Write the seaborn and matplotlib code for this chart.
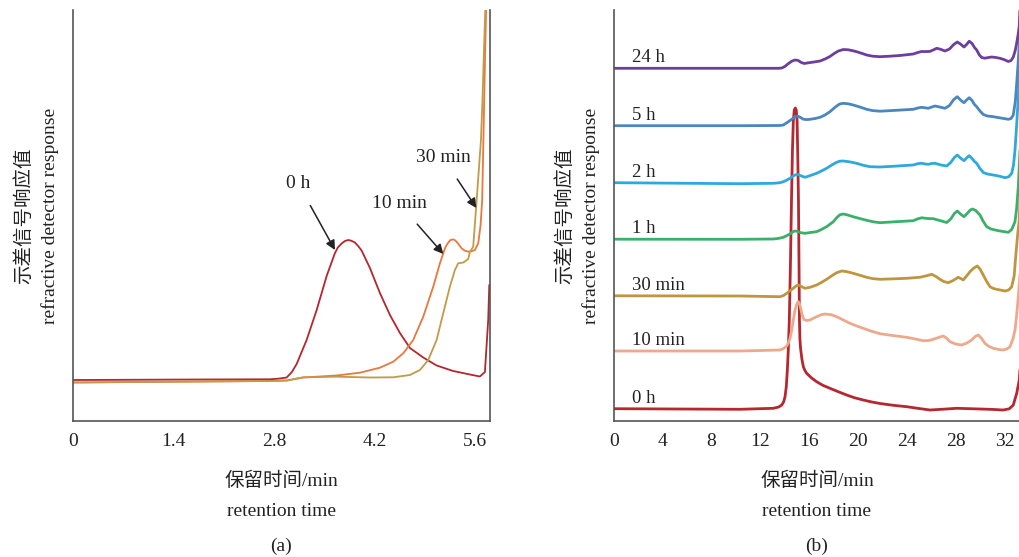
import numpy as np
import pandas as pd
import matplotlib
matplotlib.use("Agg")
import matplotlib.pyplot as plt
import seaborn as sns

# ---------------- data: panel (a) ----------------
a_0h_x = [0.0, 1.77, 2.744, 2.86, 2.977, 3.05, 3.116, 3.255, 3.395, 3.534, 3.650, 3.69, 3.743, 3.79,
          3.835, 3.88, 3.928, 3.975, 4.021, 4.137, 4.276, 4.416, 4.555, 4.695, 4.880, 5.066,
          5.297, 5.530, 5.669, 5.739, 5.785, 5.80]
a_0h_y = [41.0, 41.5, 41.7, 42.3, 43.5, 49, 57, 81, 111, 145, 168, 173.5, 177.5, 180,
          181, 180.2, 178.5, 174.8, 170.5, 153, 128, 106, 88, 73, 63.5, 55.5,
          50, 46.5, 44.5, 49, 101, 136]

a_10m_x = [0.0, 1.40, 2.744, 2.98, 3.208, 3.673, 3.998, 4.276, 4.462, 4.601, 4.740, 4.880, 5.019,
           5.112, 5.182, 5.21, 5.251, 5.27, 5.293, 5.31, 5.335, 5.375, 5.414, 5.46, 5.506, 5.55,
           5.600, 5.646, 5.679, 5.701, 5.718, 5.729, 5.743, 5.756, 5.760]
a_10m_y = [38.5, 39.3, 40, 40.5, 43.5, 45.5, 48.3, 53.3, 59.3, 67.7, 81, 104.3, 134.3,
           157.7, 172.7, 176.5, 180.5, 181.2, 181.5, 181.3, 180, 176.5, 172.7, 170.3, 169.3, 169.7,
           171, 177.7, 196, 221, 281, 321, 371, 411, 430]

a_30m_x = [0.0, 1.40, 2.744, 2.98, 3.208, 3.673, 4.137, 4.462, 4.694, 4.834, 4.949, 5.066, 5.158,
           5.251, 5.321, 5.367, 5.437, 5.47, 5.506, 5.530, 5.576, 5.614, 5.649, 5.684, 5.705,
           5.726, 5.744, 5.754]
a_30m_y = [38.5, 39.3, 40, 40.5, 43.7, 44.3, 43.5, 43.7, 46, 51, 61, 81, 107.7,
           134.3, 151, 157.7, 158.5, 160, 162, 169, 174.3, 211, 246, 281, 321,
           371, 411, 430]

a_labels = ["0 h", "10 min", "30 min"]
a_colors = ["#B5262D", "#E8783D", "#C29A48"]
a_xticks = [0, 1.4, 2.8, 4.2, 5.6]

# ---------------- data: panel (b) ----------------
b_0h_x = [0.0, 10.33, 13.06, 13.5, 13.75, 13.9, 14.02, 14.12, 14.21, 14.29, 14.37, 14.46, 14.55,
          14.63, 14.70, 14.78, 14.86, 14.94, 15.01, 15.07, 15.12, 15.17, 15.20, 15.24, 15.29,
          15.4, 15.52, 15.65, 15.79, 16.2, 16.61, 17.1, 17.70, 18.4, 19.07, 19.7, 20.43, 21.1,
          21.80, 22.9, 23.99, 25.0, 25.90, 27.0, 28.09, 30.00, 31.0, 31.91, 32.4, 32.73, 33.01,
          33.22, 33.30]
b_0h_y = [12.3, 11.7, 12.7, 14, 16, 19, 24.3, 34, 51, 72, 101, 155, 221,
          272, 300, 311, 313, 311, 300, 260, 221, 150, 101, 82, 73,
          62, 54.3, 50.5, 47.7, 43, 39.3, 35.8, 32.7, 29.2, 26, 23.3, 21, 19.1,
          17.5, 15.7, 14.3, 12.5, 11, 11.8, 12.7, 12, 11.6, 11, 12.2, 16, 27.7,
          41, 55]

b_10m_x = [0.0, 10.33, 13.61, 13.9, 14.16, 14.3, 14.43, 14.56, 14.70, 14.82, 14.92, 15.02, 15.11,
           15.2, 15.30, 15.43, 15.57, 15.8, 16.07, 16.35, 16.61, 17.0, 17.30, 17.8, 18.25, 18.8,
           19.34, 19.9, 20.43, 21.1, 21.80, 22.9, 23.99, 24.7, 25.35, 25.8, 26.17, 26.6, 26.99,
           27.25, 27.54, 28.0, 28.50, 28.9, 29.32, 29.6, 29.86, 30.1, 30.41, 30.7, 31.09, 31.5,
           31.91, 32.2, 32.46, 32.7, 32.87, 33.0, 33.14, 33.30]
b_10m_y = [70, 70, 71, 72.5, 75, 78.2, 82.7, 90.5, 101, 110, 114.3, 118, 119.3,
           117.5, 112.7, 106, 101.5, 100.5, 101, 102.8, 104.3, 106.3, 107, 106.3, 104.3, 101,
           97.7, 95, 92.7, 89.8, 87.3, 85.4, 83.7, 82, 80.3, 80.5, 81.7, 83.5, 85,
           83, 79.3, 77, 76, 77.8, 81, 84.5, 86, 83, 77.7, 74.8, 72.7, 71.6,
           71, 72, 74.3, 82, 91, 105, 124.3, 150]

b_30m_x = [0.0, 10.33, 13.61, 13.9, 14.16, 14.45, 14.70, 14.92, 15.11, 15.35, 15.66, 16.1, 16.61,
           17.0, 17.43, 17.85, 18.25, 18.66, 19.1, 19.61, 20.2, 20.71, 21.2, 21.80, 23.0, 23.99,
           25.08, 25.6, 26.04, 26.4, 26.72, 27.05, 27.40, 27.8, 28.22, 28.45, 28.63, 28.9, 29.18,
           29.5, 29.78, 30.0, 30.27, 30.55, 30.82, 31.1, 31.37, 32.05, 32.35, 32.60, 32.8, 32.95,
           33.1, 33.22, 33.30]
b_30m_y = [125.2, 125, 124.3, 125.5, 127.7, 130.5, 132.7, 135, 136, 134.5, 132.7, 133.8, 136,
           138.5, 141.7, 145.2, 148.3, 150, 149.3, 147.7, 145.6, 143.7, 142.4, 141.7, 142.2, 142.7,
           143.7, 145.2, 146.7, 144.5, 141.7, 139.4, 138.3, 140.5, 143.7, 142.3, 141, 145, 149.3,
           153, 155, 152, 146, 139.5, 134.3, 132.5, 131.7, 130, 131, 134.3, 145, 167.7,
           188, 201, 230]

b_1h_x = [0.0, 10.33, 13.06, 13.5, 13.88, 14.15, 14.43, 14.65, 14.84, 15.05, 15.3, 15.66, 16.1,
          16.61, 17.0, 17.43, 17.98, 18.25, 18.52, 18.80, 19.07, 19.6, 20.2, 20.71, 21.3, 21.80,
          23.0, 24.53, 24.9, 25.22, 25.7, 26.17, 26.7, 27.27, 27.6, 27.9, 28.14, 28.4, 28.69,
          28.95, 29.2, 29.40, 29.65, 30.00, 30.25, 30.55, 30.9, 31.50, 32.0, 32.32, 32.6, 32.87,
          33.0, 33.14, 33.28]
b_1h_y = [181.8, 181.7, 182, 182.6, 183.7, 185.3, 187, 189.2, 190, 189.6, 188.3, 187.7, 188.5,
          189.3, 191.5, 194.3, 199.3, 203.3, 206.2, 207, 206.3, 204.3, 202.3, 200.7, 199.1, 198.3,
          199.2, 200.3, 202.2, 203.2, 202.5, 202.3, 200.5, 198.5, 202, 207.5, 210, 207, 204.3,
          207.5, 211, 212, 210.5, 206, 200, 194.3, 192, 190.3, 189.3, 188.7, 191.5, 199.3,
          212, 234.3, 271]

b_2h_x = [0.0, 10.33, 13.06, 13.6, 13.88, 14.15, 14.43, 14.75, 15.02, 15.3, 15.66, 16.1, 16.61,
          17.0, 17.43, 17.85, 18.25, 18.5, 18.80, 19.3, 19.89, 20.4, 20.98, 21.8, 23.0, 24.53,
          24.9, 25.22, 25.5, 25.76, 26.05, 26.31, 26.8, 27.27, 27.6, 27.9, 28.14, 28.4, 28.69,
          28.9, 29.12, 29.35, 29.55, 29.73, 30.0, 30.27, 30.6, 31.09, 31.6, 32.05, 32.35, 32.60,
          32.75, 32.87, 33.0, 33.14, 33.28, 33.35]
b_2h_y = [238.3, 237.3, 237.7, 238.3, 239.3, 240.8, 242.7, 245.5, 246.7, 245.3, 243.7, 245.5, 247.7,
          250, 252.7, 256, 258.7, 259.8, 260, 259.2, 257.7, 255.8, 254.3, 254, 254.8, 256,
          257.3, 257.7, 257, 256.7, 257.5, 257.7, 256, 255, 258.5, 263.5, 266, 263, 260.3,
          263, 265.3, 262.5, 259.5, 257.7, 252.5, 248.5, 247, 246, 244.8, 243.3, 244.2, 247.7,
          256, 271, 295, 324.3, 357.7, 400]

b_5h_x = [0.0, 10.33, 13.6, 13.88, 14.2, 14.57, 14.85, 15.02, 15.25, 15.52, 15.8, 16.07, 16.5,
          16.89, 17.3, 17.70, 18.0, 18.25, 18.5, 18.80, 19.2, 19.61, 20.2, 20.71, 21.2, 21.80,
          23.0, 24.53, 24.9, 25.22, 25.5, 25.76, 26.05, 26.31, 26.7, 27.13, 27.5, 27.85, 28.14,
          28.4, 28.69, 28.9, 29.12, 29.35, 29.55, 29.73, 30.0, 30.27, 30.6, 31.09, 31.7, 32.32,
          32.55, 32.73, 32.9, 33.01, 33.12, 33.22, 33.30]
b_5h_y = [295.3, 295.3, 295.5, 296, 298.5, 301.7, 304.5, 305, 303.8, 301.8, 301.4, 301.7, 302.5,
          303.7, 306, 309.3, 312.5, 315, 317, 317.7, 317.2, 316, 313.8, 311.7, 310.4, 309.8,
          310.6, 311.7, 313, 313.7, 313.2, 312.7, 314, 315, 314, 312.7, 315.5, 321.5, 324.3,
          321, 318.3, 321, 323.3, 320.5, 316.5, 314.3, 310, 306.5, 305, 304.3, 303, 301.7,
          302.5, 306, 320, 337.7, 357, 377.7, 411]

b_24h_x = [0.0, 10.33, 13.5, 13.75, 14.0, 14.3, 14.6, 14.85, 15.1, 15.35, 15.6, 15.93, 16.4,
           16.89, 17.3, 17.70, 18.05, 18.39, 18.8, 19.2, 19.6, 19.89, 20.3, 20.71, 21.2, 21.8,
           22.6, 23.44, 24.53, 24.9, 25.22, 25.55, 25.90, 26.2, 26.45, 26.75, 27.13, 27.5, 27.85,
           28.14, 28.4, 28.69, 28.9, 29.12, 29.35, 29.55, 29.73, 29.95, 30.14, 30.4, 30.7, 30.96,
           31.3, 31.64, 32.0, 32.32, 32.55, 32.73, 32.9, 33.01, 33.12, 33.22, 33.30]
b_24h_y = [352.7, 352.7, 352.7, 353, 354.5, 357.5, 360, 361, 360.5, 358.5, 357.5, 358.2, 359,
           360, 362, 364.5, 367.5, 370, 371.5, 371.2, 370.2, 369.3, 367.7, 366, 364.8, 364.3,
           364.8, 365.5, 367, 368.5, 369.5, 369.4, 369.6, 371.2, 372.7, 371.8, 370, 372, 376.5,
           379, 377, 374, 376.5, 379.8, 377.5, 373.5, 371, 366, 363.5, 362.8, 363.5, 364,
           363.5, 362.7, 361.3, 359.5, 360.5, 364, 371, 378, 386, 395, 420]

b_labels = ["0 h", "10 min", "30 min", "1 h", "2 h", "5 h", "24 h"]
b_colors = ["#B5282F", "#ECA98B", "#BF953E", "#3BB06B", "#2DA9DE", "#4A86C0", "#6C3F9C"]
b_xticks = [0, 4, 8, 12, 16, 20, 24, 28, 32]

# ---------------- build tables ----------------
def long_table(xs, ys, labels):
    frames = []
    for x, y, lab in zip(xs, ys, labels):
        frames.append(pd.DataFrame({"time": x, "response": y, "sample": lab}))
    return pd.concat(frames, ignore_index=True)

df_a = long_table([a_0h_x, a_10m_x, a_30m_x], [a_0h_y, a_10m_y, a_30m_y], a_labels)
b_xs = [b_0h_x, b_10m_x, b_30m_x, b_1h_x, b_2h_x, b_5h_x, b_24h_x]
b_ys = [b_0h_y, b_10m_y, b_30m_y, b_1h_y, b_2h_y, b_5h_y, b_24h_y]
df_b = long_table(b_xs, b_ys, b_labels)

# ---------------- style ----------------
sns.set_theme(style="white")
plt.rcParams["font.family"] = ["Liberation Serif", "Noto Sans CJK SC"]
plt.rcParams["axes.unicode_minus"] = False
FS = 14
TXT = "#222222"
SPINE = "#555555"

fig = plt.figure(figsize=(10.2, 5.57), dpi=100)
axA = fig.add_axes([73 / 1020, 1 - 421 / 557, (490 - 73) / 1020, 411 / 557])
axB = fig.add_axes([614 / 1020, 1 - 421 / 557, (1020 - 614) / 1020, 411 / 557])

sns.lineplot(data=df_a, x="time", y="response", hue="sample", hue_order=a_labels,
             palette=dict(zip(a_labels, a_colors)), estimator=None, sort=False,
             linewidth=1.3, legend=False, ax=axA)
sns.lineplot(data=df_b, x="time", y="response", hue="sample", hue_order=b_labels,
             palette=dict(zip(b_labels, b_colors)), estimator=None, sort=False,
             linewidth=2.0, legend=False, ax=axB)

YTOP = 411
for ax, xlim, xt, tag in [(axA, (0, 5.81), a_xticks, "(a)"), (axB, (0, 33.28), b_xticks, "(b)")]:
    ax.set_xlim(*xlim)
    ax.set_ylim(0, YTOP)
    ax.set_xticks(xt)
    ax.set_xticklabels([("%g" % t) for t in xt], fontsize=FS, color=TXT)
    ax.set_yticks([YTOP])
    ax.set_yticklabels([])
    ax.tick_params(axis="both", direction="in", length=5, width=1, color=SPINE, pad=9)
    for s in ["left", "bottom", "right", "top"]:
        ax.spines[s].set_color(SPINE)
        ax.spines[s].set_linewidth(1.2)
    ax.spines["top"].set_visible(False)
    ax.set_xlabel("保留时间/min\nretention time", fontsize=FS, color=TXT,
                  linespacing=2.0, labelpad=15)
    ax.set_ylabel("示差信号响应值\nrefractive detector response", fontsize=FS, color=TXT,
                  linespacing=1.55, labelpad=1)
    ax.text(0.5, -0.305, tag, transform=ax.transAxes, ha="center", va="center",
            fontsize=FS, color=TXT)

axB.spines["right"].set_visible(False)

# annotations panel (a)
arrow_kw = dict(arrowstyle="-|>", color="#222222", lw=1.1, mutation_scale=14)
axA.annotate("0 h", xy=(3.65, 171), xytext=(3.14, 237), fontsize=FS, color=TXT,
             ha="center", va="center", arrowprops=dict(**arrow_kw, shrinkA=8, shrinkB=0))
axA.annotate("10 min", xy=(5.16, 167), xytext=(4.55, 217), fontsize=FS, color=TXT,
             ha="center", va="center", arrowprops=dict(**arrow_kw, shrinkA=8, shrinkB=0))
axA.annotate("30 min", xy=(5.62, 213), xytext=(5.16, 263), fontsize=FS, color=TXT,
             ha="center", va="center", arrowprops=dict(**arrow_kw, shrinkA=8, shrinkB=0))

# series labels panel (b)
for ys, lab in zip(b_ys, b_labels):
    axB.text(1.45, ys[0] + 2, lab, fontsize=FS - 0.5, color=TXT, ha="left", va="bottom")

fig.savefig("out.png", dpi=100)
